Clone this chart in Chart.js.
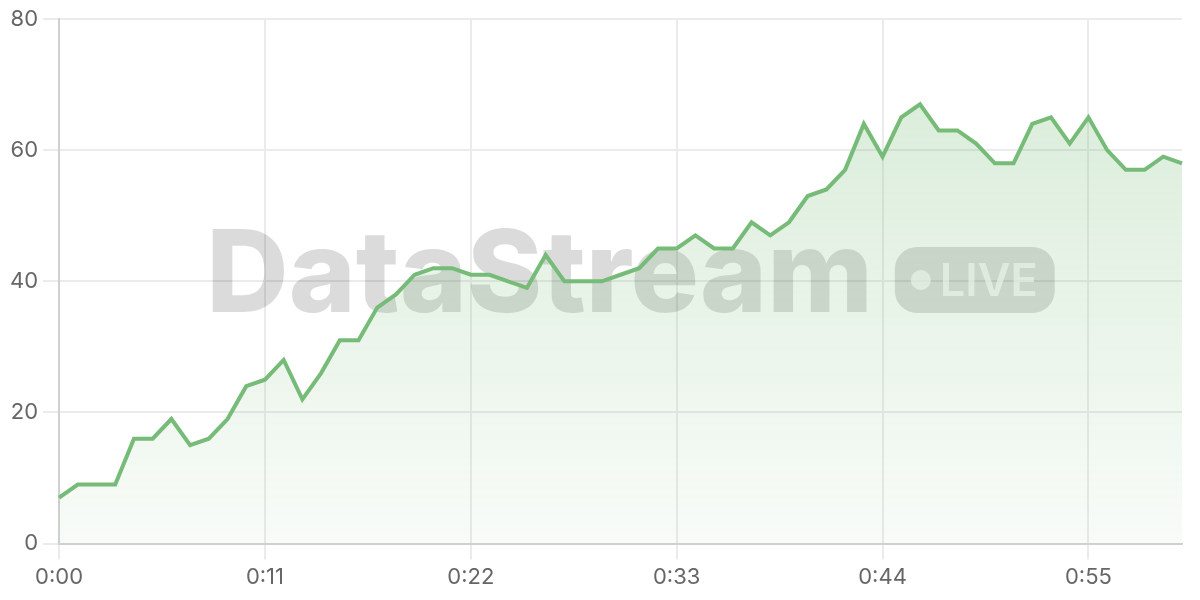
<!DOCTYPE html>
<html>
<head>
<meta charset="utf-8">
<script src="https://cdn.jsdelivr.net/npm/chart.js@4.4.0/dist/chart.umd.min.js"></script>
<style>
  html, body { margin: 0; padding: 0; background: #ffffff; }
  #wrap { width: 1200px; height: 600px; }
</style>
</head>
<body>
<div id="wrap"><canvas id="c" width="1200" height="600"></canvas></div>
<script>
// ---- data ----
const seconds = [0,1,2,3,4,5,6,7,8,9,10,11,12,13,14,15,16,17,18,19,20,21,22,23,24,25,26,27,28,29,30,31,32,33,34,35,36,37,38,39,40,41,42,43,44,45,46,47,48,49,50,51,52,53,54,55,56,57,58,59,60];
const values = [7,9,9,9,16,16,19,15,16,19,24,25,28,22,26,31,31,36,38,41,42,42,41,41,40,39,44,40,40,40,41,42,45,45,47,45,45,49,47,49,53,54,57,64,59,65,67,63,63,61,58,58,64,65,61,65,60,57,57,59,58];
const shownTicks = ['0:00','0:11','0:22','0:33','0:44','0:55'];
const yTicks = [0,20,40,60,80];
const watermarkText = 'DataStream';
const badgeText = 'LIVE';

const labels = seconds.map(s => Math.floor(s / 60) + ':' + String(s % 60).padStart(2, '0'));

const watermark = {
  id: 'watermark',
  beforeDatasetsDraw(chart) {
    const { ctx, chartArea } = chart;
    ctx.save();
    const bigFont = '800 114px Inter';
    const badgeFont = '600 45px Inter';
    ctx.font = bigFont;
    ctx.textBaseline = 'alphabetic';
    const tw = ctx.measureText(watermarkText).width;
    ctx.font = badgeFont;
    const lw = ctx.measureText(badgeText).width;
    const pillW = lw + 62, pillH = 66, gap = 22;
    const total = tw + gap + pillW;
    const cx = (chartArea.left + chartArea.right) / 2 + 10;
    const x0 = cx - total / 2;
    const baseY = 312;
    ctx.fillStyle = 'rgba(0,0,0,0.14)';
    ctx.font = bigFont;
    ctx.fillText(watermarkText, x0, baseY);
    const px = x0 + tw + gap, py = 247;
    ctx.beginPath();
    ctx.roundRect(px, py, pillW, pillH, 22);
    ctx.fill();
    ctx.fillStyle = 'rgba(255,255,255,0.7)';
    ctx.beginPath();
    ctx.arc(px + 26, py + pillH / 2, 10, 0, Math.PI * 2);
    ctx.fill();
    ctx.font = badgeFont;
    ctx.textBaseline = 'middle';
    ctx.fillText(badgeText, px + 45, py + pillH / 2 + 2);
    ctx.restore();
  }
};

const ctx = document.getElementById('c').getContext('2d');
new Chart(ctx, {
  type: 'line',
  data: {
    labels: labels,
    datasets: [{
      data: values,
      borderColor: '#76bb77',
      borderWidth: 4,
      pointRadius: 0,
      tension: 0,
      fill: true,
      backgroundColor: (c) => {
        const area = c.chart.chartArea;
        if (!area) return 'rgba(118,187,119,0.15)';
        const g = c.chart.ctx.createLinearGradient(0, area.top, 0, area.bottom);
        g.addColorStop(0, 'rgba(118,187,119,0.30)');
        g.addColorStop(1, 'rgba(118,187,119,0.05)');
        return g;
      }
    }]
  },
  options: {
    responsive: false,
    animation: false,
    devicePixelRatio: 1,
    layout: { padding: { left: 5, right: 18, top: 19, bottom: 4 } },
    plugins: { legend: { display: false }, tooltip: { enabled: false } },
    scales: {
      x: {
        ticks: {
          autoSkip: false,
          maxRotation: 0,
          color: '#666666',
          font: { family: 'Inter', size: 22 },
          padding: 5,
          callback: (v, i) => shownTicks.includes(labels[i]) ? labels[i] : ''
        },
        grid: {
          color: (c) => shownTicks.includes(labels[c.index]) ? '#ebebeb' : 'rgba(0,0,0,0)',
          tickLength: 16,
          lineWidth: 2
        },
        border: { color: '#d0d0d0', width: 2 }
      },
      y: {
        min: 0, max: 80,
        ticks: {
          stepSize: 20,
          color: '#666666',
          font: { family: 'Inter', size: 22 },
          padding: 5,
          callback: (v) => yTicks.includes(v) ? String(v) : ''
        },
        grid: { color: '#ebebeb', tickLength: 16, lineWidth: 2 },
        border: { color: '#d0d0d0', width: 2 }
      }
    }
  },
  plugins: [watermark]
});
</script>
</body>
</html>
